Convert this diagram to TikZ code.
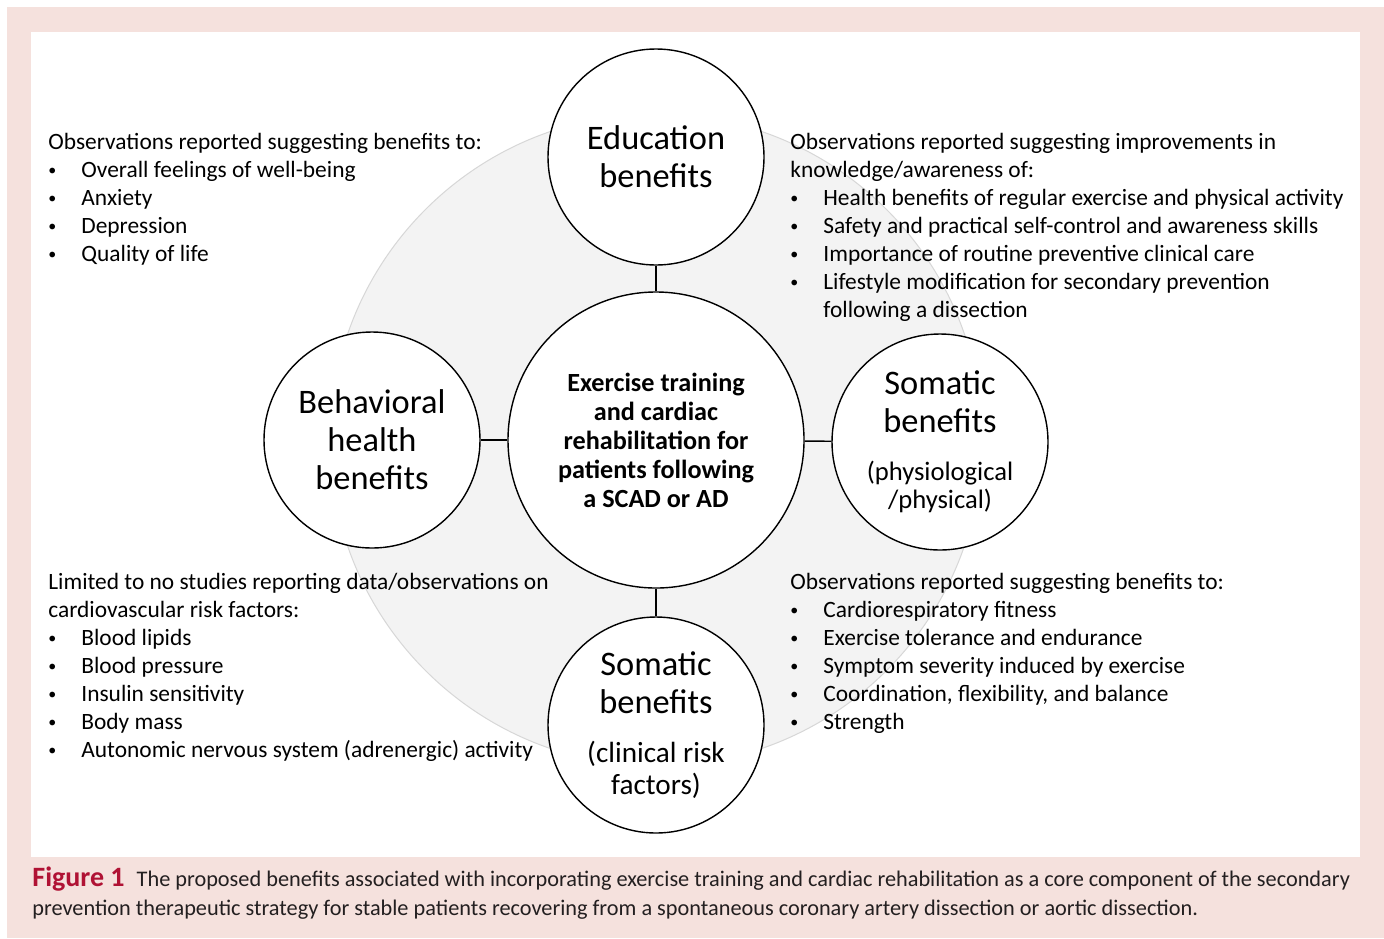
\documentclass[tikz,border=0pt]{standalone}
\usepackage{fontspec}
\setmainfont{Carlito}
\newfontfamily\capfont{Carlito}
\definecolor{framepink}{RGB}{245,225,221}
\definecolor{bggray}{RGB}{243,243,243}
\definecolor{bgline}{RGB}{215,215,215}
\definecolor{figred}{RGB}{176,18,52}
\definecolor{captext}{RGB}{35,31,32}
\newcommand{\bul}[1]{\makebox[16.5pt][l]{\raisebox{1.2pt}{\fontsize{8}{8}\selectfont•}}#1}

\begin{document}
\begin{tikzpicture}[x=0.5pt,y=-0.5pt,
  circ/.style={circle,draw,line width=0.7pt,fill=white,minimum size=108pt,inner sep=0pt,align=center,font=\fontsize{17.2}{19}\selectfont},
  core/.style={circ,minimum size=148pt,font=\fontsize{13.1}{14.5}\selectfont\bfseries},
  obs/.style={anchor=north west,inner sep=0pt,align=left,font=\fontsize{11.7}{14}\selectfont},
  link/.style={line width=0.7pt}]
   \useasboundingbox (0,0) rectangle (1384,938);
   \fill[framepink] (7,7) rectangle (1384,938);
   \fill[white] (31,32) rectangle (1360,857);

   % big grey disc behind the circles
   \node[circle,fill=bggray,draw=bgline,line width=0.5pt,minimum size=326pt] (ring) at (656,440) {};

   \node[core] (ex) at (656,440) {Exercise training\\and cardiac\\rehabilitation for\\patients following\\a SCAD or AD};
   \node[circ] (edu) at (656,157) {Education\\benefits};
   \node[circ] (beh) at (372,440) {Behavioral\\health\\benefits};
   \node[circ] (phys) at (940,442) {Somatic\\benefits\\[5pt]{\fontsize{13.3}{14}\selectfont(physiological}\\[-5pt]{\fontsize{13.3}{14}\selectfont/physical)}};
   \node[circ] (clin) at (656,725) {Somatic\\benefits\\[5.5pt]{\fontsize{14.6}{16}\selectfont(clinical risk}\\[-3pt]{\fontsize{14.6}{16}\selectfont factors)}};

   \draw[link] (ex)--(edu);
   \draw[link] (ex)--(beh);
   \draw[link] (ex)--(phys);
   \draw[link] (ex)--(clin);

   % text blocks
   \node[obs] (tl) at (48,133) {Observations reported suggesting benefits to:\\
     \bul{Overall feelings of well-being}\\
     \bul{Anxiety}\\
     \bul{Depression}\\
     \bul{Quality of life}};
   \node[obs] (tr) at (790,133) {Observations reported suggesting improvements in\\
     knowledge/awareness of:\\
     \bul{Health benefits of regular exercise and physical activity}\\
     \bul{Safety and practical self-control and awareness skills}\\
     \bul{Importance of routine preventive clinical care}\\
     \bul{Lifestyle modification for secondary prevention}\\
     \hspace*{16.5pt}following a dissection};
   \node[obs] (bl) at (48,573) {Limited to no studies reporting data/observations on\\
     cardiovascular risk factors:\\
     \bul{Blood lipids}\\
     \bul{Blood pressure}\\
     \bul{Insulin sensitivity}\\
     \bul{Body mass}\\
     \bul{Autonomic nervous system (adrenergic) activity}};
   \node[obs] (br) at (790,573) {Observations reported suggesting benefits to:\\
     \bul{Cardiorespiratory fitness}\\
     \bul{Exercise tolerance and endurance}\\
     \bul{Symptom severity induced by exercise}\\
     \bul{Coordination, flexibility, and balance}\\
     \bul{Strength}};

   % caption
   \node[anchor=north west,inner sep=0pt,align=left,text=captext,font=\capfont\fontsize{11.15}{14.5}\selectfont] (cap) at (32,866)
     {{\color{figred}\bfseries\fontsize{14}{14.5}\selectfont Figure 1}\hspace{6pt}The proposed benefits associated with incorporating exercise training and cardiac rehabilitation as a core component of the secondary\\
      prevention therapeutic strategy for stable patients recovering from a spontaneous coronary artery dissection or aortic dissection.};
 \end{tikzpicture}
\end{document}
